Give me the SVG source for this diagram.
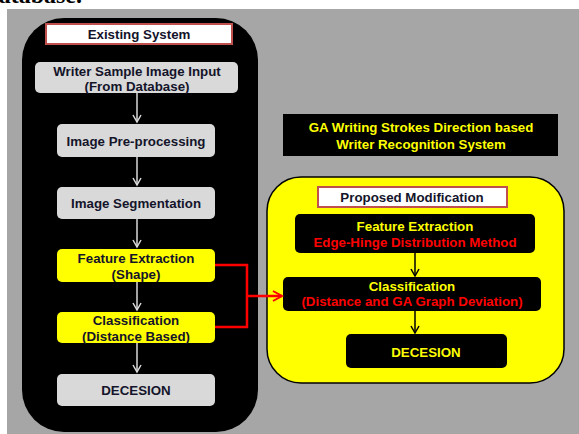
<svg xmlns="http://www.w3.org/2000/svg" width="579" height="434" viewBox="0 0 579 434">
  <style>
    .t { font-family: "Liberation Sans", Arial, sans-serif; font-weight: bold; font-size: 13.3px; text-anchor: middle; }
    .dark { fill: #14142a; }
    .yel { fill: #ffff00; }
    .red { fill: #ff0000; }
    .grey { fill: #d9d9d9; }
    .ybox { fill: #ffff00; }
    .bbox { fill: #000000; }
    .label { fill: #ffffff; stroke: #c0504d; stroke-width: 2; }
    .wline { stroke: #d9d9d9; stroke-width: 1.5; fill: none; }
    .bline { stroke: #000000; stroke-width: 1.5; fill: none; }
    .rline { stroke: #ff0000; stroke-width: 2.5; fill: none; }
  </style>
  <defs>
    <marker id="headW" markerWidth="10" markerHeight="10" refX="8" refY="5" orient="auto" markerUnits="userSpaceOnUse">
      <path d="M1,1 L8,5 L1,9" fill="none" stroke="#d9d9d9" stroke-width="1.5"/>
    </marker>
    <marker id="headB" markerWidth="10" markerHeight="10" refX="8" refY="5" orient="auto" markerUnits="userSpaceOnUse">
      <path d="M1,1 L8,5 L1,9" fill="none" stroke="#000000" stroke-width="1.5"/>
    </marker>
    <marker id="headR" markerWidth="12" markerHeight="12" refX="10" refY="6" orient="auto" markerUnits="userSpaceOnUse">
      <path d="M1,1 L10,6 L1,11" fill="none" stroke="#ff0000" stroke-width="2"/>
    </marker>
  </defs>

  <!-- page -->
  <rect x="0" y="0" width="579" height="434" fill="#ffffff"/>
  <text x="82" y="2.5" font-family="'Liberation Serif', 'Times New Roman', serif" font-weight="bold" font-size="24" text-anchor="end" fill="#000">Database.</text>
  <rect x="7" y="9" width="572" height="425" fill="#a6a6a6"/>

  <!-- existing system panel -->
  <g id="existing-panel">
    <rect x="22" y="18" width="236" height="414" rx="42" ry="42" fill="#000000"/>
    <rect class="label" x="46" y="24" width="186" height="20"/>
    <text class="t dark" x="139" y="38.5" font-size="12.5">Existing System</text>
  </g>

  <g id="input">
    <rect class="grey" x="35" y="62" width="203" height="31" rx="5"/>
    <text class="t dark" x="137" y="76" font-size="13.8">Writer Sample Image Input</text>
    <text class="t dark" x="137" y="90.5" font-size="13.8">(From Database)</text>
  </g>
  <g id="preprocessing">
    <rect class="grey" x="57" y="124" width="158" height="33" rx="5"/>
    <text class="t dark" x="136" y="145.5">Image Pre-processing</text>
  </g>
  <g id="segmentation">
    <rect class="grey" x="57" y="187" width="158" height="32" rx="5"/>
    <text class="t dark" x="136" y="208">Image Segmentation</text>
  </g>
  <g id="feature-shape">
    <rect class="ybox" x="57" y="249" width="158" height="33" rx="5"/>
    <text class="t dark" x="136" y="262.5">Feature Extraction</text>
    <text class="t dark" x="136" y="278.5">(Shape)</text>
  </g>
  <g id="classification-distance">
    <rect class="ybox" x="57" y="312" width="158" height="31" rx="5"/>
    <text class="t dark" x="136" y="325">Classification</text>
    <text class="t dark" x="136" y="340.5">(Distance Based)</text>
  </g>
  <g id="decesion-old">
    <rect class="grey" x="57" y="374" width="158" height="32" rx="5"/>
    <text class="t dark" x="136" y="395">DECESION</text>
  </g>

  <!-- title -->
  <g id="title">
    <rect class="bbox" x="283" y="114" width="275" height="42"/>
    <text class="t yel" x="421" y="131.5" font-size="15.8">GA Writing Strokes Direction based</text>
    <text class="t yel" x="421" y="148.5" font-size="15.8">Writer Recognition System</text>
  </g>

  <!-- proposed modification panel -->
  <g id="proposed-panel">
    <rect x="267" y="177" width="297" height="206" rx="34" ry="34" fill="#ffff00" stroke="#000000" stroke-width="1.5"/>
    <rect class="label" x="318" y="187" width="189" height="20"/>
    <text class="t dark" x="412" y="202">Proposed Modification</text>
  </g>
  <g id="feature-edge-hinge">
    <rect class="bbox" x="295" y="214" width="240" height="39" rx="5"/>
    <text class="t yel" x="415" y="230.5">Feature Extraction</text>
    <text class="t red" x="415" y="246.5">Edge-Hinge Distribution Method</text>
  </g>
  <g id="classification-ga">
    <rect class="bbox" x="283" y="277" width="258" height="34" rx="5"/>
    <text class="t yel" x="412" y="290.5">Classification</text>
    <text class="t red" x="412" y="306">(Distance and GA Graph Deviation)</text>
  </g>
  <g id="decesion-new">
    <rect class="bbox" x="346" y="334" width="161" height="34" rx="5"/>
    <text class="t yel" x="426" y="356.5">DECESION</text>
  </g>

  <!-- connectors -->
  <g id="connectors">
    <line class="wline" x1="137" y1="93" x2="137" y2="122" marker-end="url(#headW)"/>
    <line class="wline" x1="137" y1="157" x2="137" y2="185" marker-end="url(#headW)"/>
    <line class="wline" x1="137" y1="219" x2="137" y2="247" marker-end="url(#headW)"/>
    <line class="wline" x1="137" y1="282" x2="137" y2="310" marker-end="url(#headW)"/>
    <line class="wline" x1="137" y1="343" x2="137" y2="372" marker-end="url(#headW)"/>
    <polyline class="rline" points="215,265 247,265 247,327 215,327"/>
    <line class="rline" x1="247" y1="296" x2="282" y2="296" marker-end="url(#headR)"/>
    <line class="bline" x1="415" y1="253" x2="415" y2="276" marker-end="url(#headB)"/>
    <line class="bline" x1="415" y1="311" x2="415" y2="333" marker-end="url(#headB)"/>
  </g>
</svg>
